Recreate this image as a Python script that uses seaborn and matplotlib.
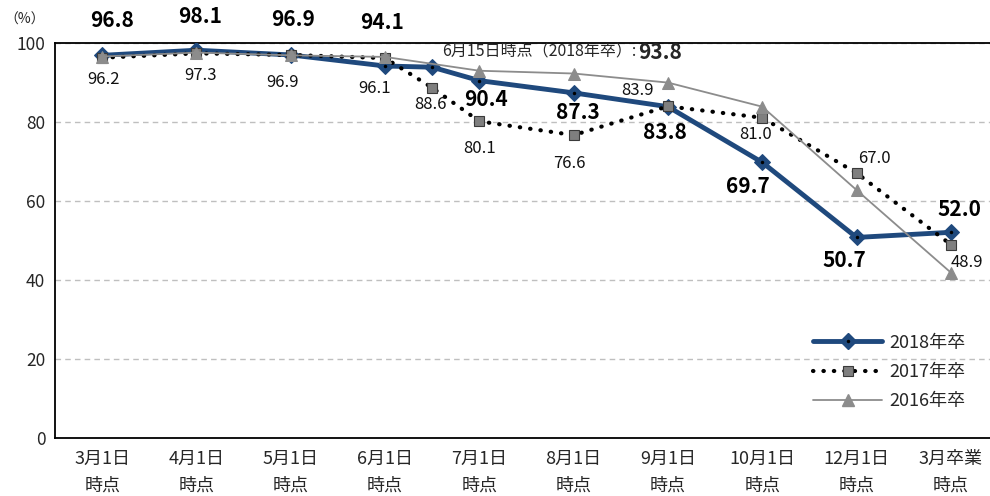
import numpy as np
import pandas as pd
import seaborn as sns
import matplotlib
matplotlib.use("Agg")
import matplotlib.pyplot as plt
from matplotlib.lines import Line2D
from matplotlib.legend_handler import HandlerTuple

# ---------------- data ----------------
categories = ["3月1日\n時点", "4月1日\n時点", "5月1日\n時点", "6月1日\n時点", "7月1日\n時点",
              "8月1日\n時点", "9月1日\n時点", "10月1日\n時点", "12月1日\n時点", "3月卒業\n時点"]
# time points (category index; 3.5 = 6月15日時点)
x_2018 = [0, 1, 2, 3, 3.5, 4, 5, 6, 7, 8, 9]
vals_2018 = [96.8, 98.1, 96.9, 94.1, 93.8, 90.4, 87.3, 83.8, 69.7, 50.7, 52.0]
x_2017 = [0, 1, 2, 3, 3.5, 4, 5, 6, 7, 8, 9]
vals_2017 = [96.2, 97.3, 96.9, 96.1, 88.6, 80.1, 76.6, 83.9, 81.0, 67.0, 48.9]
x_2016 = [0, 1, 2, 3, 4, 5, 6, 7, 8, 9]
vals_2016 = [96.5, 97.5, 96.8, 96.4, 92.9, 92.2, 89.9, 83.8, 62.7, 41.8]
series_names = ["2018年卒", "2017年卒", "2016年卒"]
note_text = "6月15日時点（2018年卒）:"
note_value = "93.8"

# label offsets in pixels (layout only)
off_2018 = [(10, 35), (4, 34), (2, 35), (-3, 44), None, (7, -19), (4, -20), (-3, -26), (-14, -24), (-12, -23), (9, 23)]
off_2017 = [(1, -22), (4, -22), (-8, -28), (-10, -30), (-2, -17), (0, -27), (-4, -28), (-30, 16), (-7, -17), (18, 15), (16, -18)]

sns.set_theme(style="white")
plt.rcParams["font.family"] = ["Noto Sans CJK JP", "DejaVu Sans"]

BLUE = "#1F497D"
GRAY = "#8C8C8C"

fig = plt.figure(figsize=(9.9, 4.96), dpi=100)
ax = fig.add_axes([55 / 990, 58.3 / 496, 943 / 990, 395 / 496])

df18 = pd.DataFrame({"x": x_2018, "v": vals_2018})
df17 = pd.DataFrame({"x": x_2017, "v": vals_2017})
df16 = pd.DataFrame({"x": x_2016, "v": vals_2016})

sns.lineplot(data=df18, x="x", y="v", ax=ax, color=BLUE, lw=3.5, marker="D", markersize=8,
             markeredgecolor=BLUE, zorder=3, legend=False)
sns.lineplot(data=df18, x="x", y="v", ax=ax, color="black", linestyle="none", marker="o",
             markersize=2.5, markeredgewidth=0, zorder=3.1, legend=False)
sns.lineplot(data=df17, x="x", y="v", ax=ax, color="black", lw=3, linestyle=(0, (0.1, 2.4)),
             dash_capstyle="round", marker="s", markersize=7, markerfacecolor="#7F7F7F",
             markeredgecolor="#3A3A3A", markeredgewidth=0.8, zorder=4, legend=False)
sns.lineplot(data=df16, x="x", y="v", ax=ax, color=GRAY, lw=1.3, marker="^", markersize=9,
             markeredgecolor=GRAY, zorder=5, legend=False)

# data labels
for xv, v, off in zip(x_2018, vals_2018, off_2018):
    if off is None:
        continue
    ax.annotate(f"{v:.1f}", (xv, v), xytext=off, textcoords="offset pixels", ha="center",
                va="center", fontsize=15, fontweight="bold", color="black", zorder=6)
for xv, v, off in zip(x_2017, vals_2017, off_2017):
    ax.annotate(f"{v:.1f}", (xv, v), xytext=off, textcoords="offset pixels", ha="center",
                va="center", fontsize=12, color="#111111", zorder=6)

# 6/15 note
i615 = x_2018.index(3.5)
t1 = ax.annotate(note_text, (x_2018[i615], vals_2018[i615]), xytext=(10, 15),
                 textcoords="offset pixels", ha="left", va="center", fontsize=11.5, zorder=6)
ax.annotate(note_value, xy=(1, 0.5), xycoords=t1, xytext=(2, 0), textcoords="offset pixels",
            ha="left", va="center", fontsize=15, fontweight="bold", zorder=6)

# axes
ax.set_xlim(-0.5, 9.5)
ax.set_ylim(0, 100)
ax.set_yticks(range(0, 101, 20))
ax.set_xticks(range(len(categories)))
ax.set_xticklabels(categories, fontsize=13)
for lbl in ax.get_xticklabels():
    lbl.set_linespacing(1.6)
ax.set_xticks(np.arange(-0.5, 10, 1), minor=True)
ax.tick_params(axis="x", which="major", length=0, pad=9)
ax.tick_params(axis="x", which="minor", length=5, width=1, direction="out", color="black")
ax.tick_params(axis="y", length=4, width=1, direction="out", color="black", labelsize=12.5, pad=3)
ax.set_xlabel("")
ax.set_ylabel("")
ax.yaxis.grid(True, linestyle=(0, (4, 3)), color="#BFBFBF", lw=1)
ax.set_axisbelow(True)
for s in ["left", "bottom", "top"]:
    ax.spines[s].set_visible(True)
    ax.spines[s].set_color("black")
    ax.spines[s].set_linewidth(1.3)
ax.spines["right"].set_visible(False)

fig.text(25 / 990, 1 - 20 / 496, "（%）", ha="center", va="center", fontsize=10)

# legend
h18 = Line2D([], [], color=BLUE, lw=3.5, marker="D", markersize=8, markeredgecolor=BLUE)
h18d = Line2D([], [], color="black", linestyle="none", marker="o", markersize=2.5, markeredgewidth=0)
h17 = Line2D([], [], color="black", lw=3, linestyle=(0, (0.1, 2.4)), dash_capstyle="round",
             marker="s", markersize=7, markerfacecolor="#7F7F7F", markeredgecolor="#3A3A3A",
             markeredgewidth=0.8)
h16 = Line2D([], [], color=GRAY, lw=1.3, marker="^", markersize=9, markeredgecolor=GRAY)
leg = ax.legend([(h18, h18d), h17, h16], series_names,
                handler_map={tuple: HandlerTuple(ndivide=1, pad=0)},
                loc="center left", bbox_to_anchor=(806 / 990, 1 - 372 / 496),
                bbox_transform=fig.transFigure, frameon=False, fontsize=13, handlelength=3.8,
                handletextpad=0.4, labelspacing=0.62, borderaxespad=0)

fig.savefig("out.png", dpi=100)
